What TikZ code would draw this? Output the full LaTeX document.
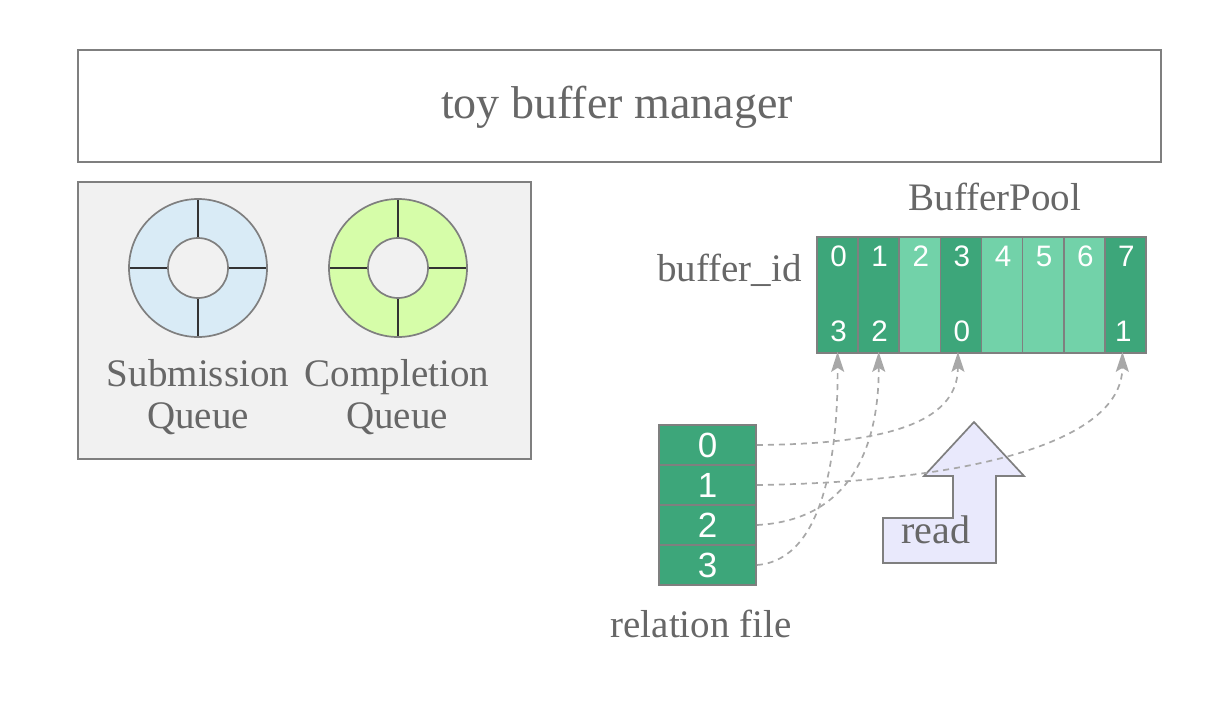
\documentclass[tikz,border=0pt]{standalone}
\usepackage{fontspec}
\setmainfont{Liberation Serif}
\newfontfamily\digitfont{Liberation Sans}
\usetikzlibrary{arrows.meta}
\definecolor{txtgray}{HTML}{676767}
\definecolor{linegray}{HTML}{7F7F7F}
\definecolor{dashgray}{HTML}{A8A8A8}
\definecolor{dkgreen}{HTML}{3DA67A}
\definecolor{ltgreen}{HTML}{72D2A9}
\definecolor{ringblue}{HTML}{D9EBF6}
\definecolor{ringgreen}{HTML}{D6FDA9}
\definecolor{panel}{HTML}{F1F1F1}
\definecolor{lavender}{HTML}{E9E9FC}
\definecolor{divider}{HTML}{333333}
\tikzset{
  frame/.style={draw=linegray, line width=0.85pt},
  lbl/.style={text=txtgray, font=\fontsize{19.5}{21}\selectfont, inner sep=0pt},
  bcell/.style={draw=linegray, line width=0.85pt, minimum width=20.56pt, minimum height=58pt, inner sep=0pt},
  rcell/.style={draw=linegray, line width=0.85pt, fill=dkgreen, minimum width=48.5pt, minimum height=20pt, inner sep=0pt, text=white, font=\digitfont\fontsize{17.5}{17.5}\selectfont},
  digit/.style={text=white, font=\digitfont\fontsize{14.8}{15}\selectfont, inner sep=0pt},
  conn/.style={draw=dashgray, line width=0.85pt, dashed, dash pattern=on 3pt off 2.5pt, -{Stealth[length=10pt,width=6.5pt,inset=2pt]}, shorten >=-1pt},
  ringdiv/.style={draw=divider, line width=0.9pt},
}
\begin{document}
\begin{tikzpicture}[x=0.5pt,y=-0.5pt]
\useasboundingbox (0,0) rectangle (1232,702);
% top box
\node[frame, fill=white, minimum width=541.5pt, minimum height=56pt, anchor=north west, inner sep=0pt] (mgr) at (77,49) {};
\node[text=txtgray, font=\fontsize{23}{26}\selectfont, inner sep=0pt] (mgrlbl) at (617,107) {toy buffer manager};
% left panel
\node[frame, fill=panel, minimum width=226.5pt, minimum height=138.5pt, anchor=north west, inner sep=0pt] (panel) at (77,181) {};
% rings
\foreach \cx/\col/\nm in {198/ringblue/sq, 398/ringgreen/cq}{
  \fill[\col, even odd rule] (\cx,268) circle[radius=34.5pt] (\cx,268) circle[radius=15pt];
  \draw[ringdiv] (\cx,199) -- (\cx,238);
  \draw[ringdiv] (\cx,298) -- (\cx,337);
  \draw[ringdiv] (\cx-69,268) -- (\cx-30,268);
  \draw[ringdiv] (\cx+30,268) -- (\cx+69,268);
  \draw[linegray, line width=0.85pt] (\cx,268) circle[radius=34.5pt];
  \draw[linegray, line width=0.85pt, fill=panel] (\cx,268) circle[radius=15pt];
  \coordinate (\nm) at (\cx,268);
}
\node[lbl, align=center] (sqlbl) at (198,397) {Submission\\Queue};
\node[lbl, align=center] (cqlbl) at (397,397) {Completion\\Queue};
% buffer pool
\node[lbl] (bp) at (995,197) {BufferPool};
\node[lbl, anchor=east] (bid) at (802,270) {buffer\_id};
\foreach \i/\col in {0/dkgreen,1/dkgreen,2/ltgreen,3/dkgreen,4/ltgreen,5/ltgreen,6/ltgreen,7/dkgreen}{
  \node[bcell, fill=\col] (b\i) at ({837.56+41.125*\i},295) {};
  \node[digit] (t\i) at ({838.56+41.125*\i},256) {\i};
}
\node[digit] (m0) at (838.56,331) {3};
\node[digit] (m1) at (879.7,331) {2};
\node[digit] (m3) at (961.9,331) {0};
\node[digit] (m7) at (1123.4,331) {1};
% relation file
\foreach \i in {0,1,2,3}{
  \node[rcell] (r\i) at (707.5,{445+40*\i}) {\i};
}
\node[lbl] (rf) at (701,624) {relation file};
% read arrow
\draw[draw=linegray, line width=0.85pt, fill=lavender]
  (974,422) -- (1024,476) -- (996,476) -- (996,563) -- (883,563) -- (883,518) -- (953,518) -- (953,476) -- (924,476) -- cycle;
\node[lbl, font=\fontsize{20}{22}\selectfont] (rd) at (936,530) {read};
% connectors
\draw[conn] (r0.east) .. controls (880,444) and (958,425) .. ([xshift=-1.5pt]b3.south);
\draw[conn] (r1.east) .. controls (960,482) and (1122,445) .. ([xshift=-1.5pt]b7.south);
\draw[conn] (r2.east) .. controls (855,520) and (879,440) .. (b1.south);
\draw[conn] (r3.east) .. controls (825,560) and (838,450) .. (b0.south);
\end{tikzpicture}
\end{document}
